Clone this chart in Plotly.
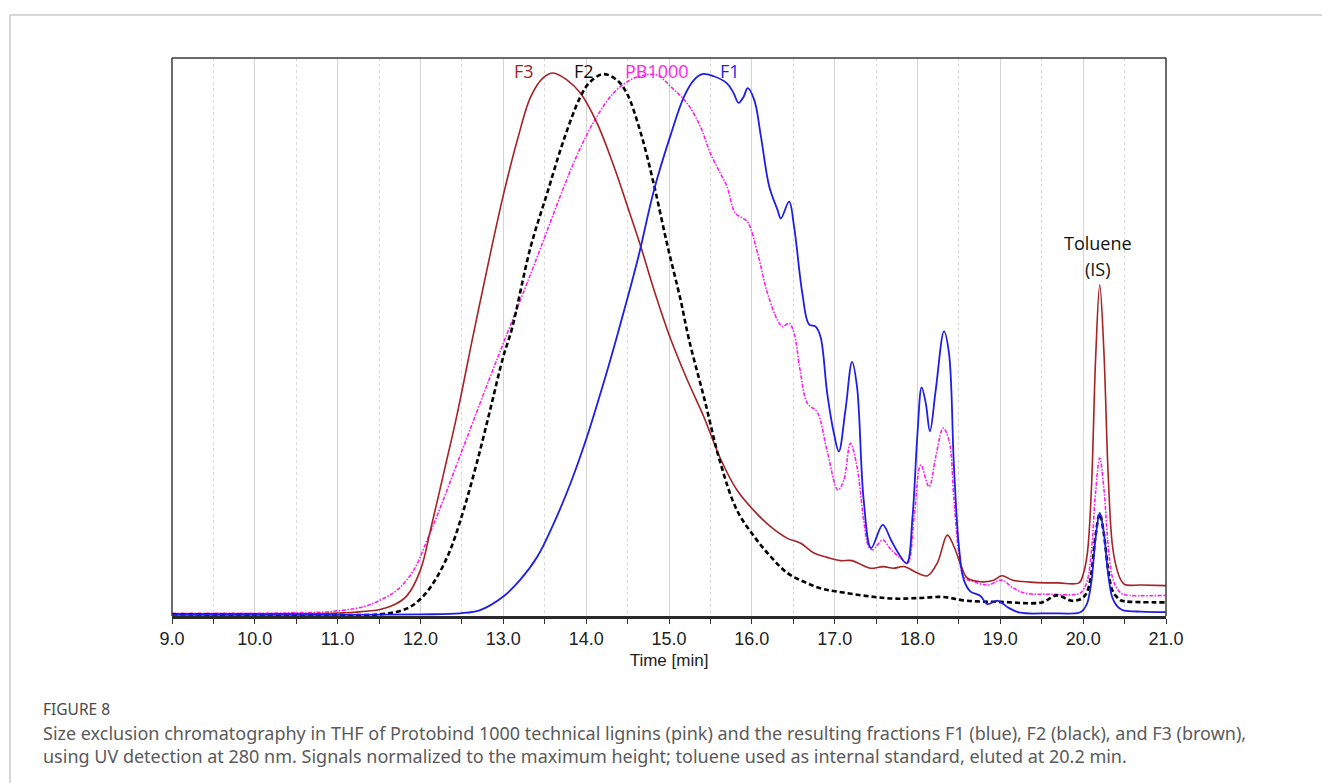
import plotly.graph_objects as go

# ---------------- data (normalized signal vs. time [min]) ----------------
f3_t = [9.0, 10.0, 10.5, 10.9, 11.2, 11.51, 11.7, 11.84, 12.0, 12.12, 12.28, 12.44, 12.64, 12.84,
        13.0, 13.17, 13.33, 13.48, 13.6, 13.77, 13.93, 14.13, 14.33, 14.53, 14.66, 14.82, 15.02,
        15.22, 15.42, 15.62, 15.82, 16.02, 16.23, 16.43, 16.59, 16.75, 16.91, 17.07, 17.21, 17.3,
        17.43, 17.59, 17.71, 17.84, 18.0, 18.12, 18.24, 18.36, 18.44, 18.53, 18.6, 18.76, 18.92,
        19.02, 19.15, 19.4, 19.7, 19.95, 20.0, 20.05, 20.1, 20.15, 20.2, 20.25, 20.3, 20.35, 20.4,
        20.45, 20.5, 20.7, 21.0]
f3_v = [0.004, 0.004, 0.004, 0.005, 0.007, 0.012, 0.022, 0.038, 0.085, 0.158, 0.263, 0.370, 0.520, 0.665,
        0.775, 0.877, 0.956, 0.991, 1.0, 0.987, 0.963, 0.908, 0.830, 0.740, 0.680, 0.600, 0.510,
        0.435, 0.367, 0.290, 0.232, 0.195, 0.164, 0.143, 0.134, 0.116, 0.108, 0.102, 0.102, 0.096,
        0.088, 0.091, 0.088, 0.091, 0.079, 0.074, 0.098, 0.149, 0.128, 0.091, 0.070, 0.063, 0.066,
        0.074, 0.066, 0.062, 0.061, 0.061, 0.077, 0.115, 0.236, 0.473, 0.610, 0.488, 0.267, 0.134, 0.090,
        0.068, 0.058, 0.057, 0.056]

f2_t = [9.0, 10.0, 11.0, 11.51, 11.84, 12.03, 12.2, 12.36, 12.52, 12.68, 12.84, 13.0, 13.1, 13.33,
        13.53, 13.73, 13.93, 14.05, 14.21, 14.37, 14.49, 14.66, 14.82, 14.98, 15.14, 15.24, 15.43,
        15.62, 15.82, 16.03, 16.23, 16.43, 16.63, 16.83, 17.03, 17.43, 17.72, 18.0, 18.3, 18.6,
        19.0, 19.5, 19.68, 19.86, 19.95, 20.0, 20.05, 20.1, 20.15, 20.2, 20.25, 20.3, 20.35, 20.4,
        20.45, 20.5, 21.0]
f2_v = [0.003, 0.002, 0.002, 0.003, 0.014, 0.036, 0.072, 0.122, 0.195, 0.282, 0.379, 0.478, 0.527, 0.680,
        0.779, 0.877, 0.956, 0.984, 0.998, 0.987, 0.963, 0.889, 0.793, 0.683, 0.582, 0.510, 0.398,
        0.282, 0.195, 0.146, 0.109, 0.079, 0.063, 0.051, 0.045, 0.036, 0.032, 0.033, 0.035, 0.028,
        0.026, 0.025, 0.038, 0.028, 0.030, 0.034, 0.045, 0.080, 0.149, 0.188, 0.151, 0.087, 0.048, 0.036,
        0.029, 0.027, 0.025]

pb_t = [9.0, 10.0, 10.5, 10.9, 11.31, 11.51, 11.72, 11.92, 12.08, 12.24, 12.44, 12.64, 12.84, 13.02,
        13.33, 13.53, 13.73, 13.93, 14.13, 14.33, 14.53, 14.7, 14.86, 15.02, 15.22, 15.38,
        15.5, 15.62, 15.7, 15.8, 15.9, 15.96, 16.07, 16.19, 16.31, 16.37, 16.45, 16.51, 16.58,
        16.67, 16.79, 16.91, 17.04, 17.11, 17.19, 17.27, 17.35, 17.41, 17.46, 17.58, 17.68, 17.8,
        17.88, 17.96, 18.04, 18.14, 18.22, 18.31, 18.38, 18.44, 18.5, 18.56, 18.68, 18.85, 19.02,
        19.15, 19.3, 19.6, 19.95, 20.0, 20.05, 20.1, 20.15, 20.2, 20.25, 20.3, 20.35, 20.4, 20.45,
        20.5, 21.0]
pb_v = [0.005, 0.005, 0.006, 0.008, 0.017, 0.029, 0.048, 0.085, 0.140, 0.200, 0.280, 0.360, 0.440, 0.510,
        0.630, 0.710, 0.790, 0.862, 0.920, 0.963, 0.987, 0.996, 0.996, 0.975, 0.944, 0.901,
        0.852, 0.815, 0.791, 0.742, 0.732, 0.723, 0.668, 0.594, 0.545, 0.533, 0.539, 0.521, 0.455,
        0.392, 0.375, 0.303, 0.232, 0.250, 0.318, 0.275, 0.177, 0.128, 0.122, 0.140, 0.122, 0.106,
        0.097, 0.183, 0.278, 0.238, 0.293, 0.346, 0.324, 0.214, 0.115, 0.072, 0.063, 0.057, 0.066,
        0.052, 0.042, 0.040, 0.041, 0.048, 0.065, 0.120, 0.228, 0.291, 0.235, 0.133, 0.073, 0.053, 0.043,
        0.039, 0.038]

f1_t = [9.0, 11.0, 12.0, 12.48, 12.72, 13.0, 13.2, 13.41, 13.61, 13.81, 14.01, 14.21, 14.37, 14.62,
        14.82, 15.02, 15.18, 15.3, 15.4, 15.54, 15.7, 15.78, 15.84, 15.9, 15.95, 16.03, 16.11,
        16.21, 16.31, 16.35, 16.45, 16.51, 16.61, 16.69, 16.77, 16.83, 16.91, 16.99, 17.05, 17.13,
        17.21, 17.27, 17.35, 17.44, 17.58, 17.68, 17.76, 17.87, 17.94, 18.0, 18.05, 18.1, 18.15,
        18.22, 18.32, 18.38, 18.44, 18.5, 18.56, 18.64, 18.76, 18.84, 18.97, 19.1, 19.24, 19.6,
        19.95, 20.0, 20.05, 20.1, 20.15, 20.2, 20.25, 20.3, 20.35, 20.4, 20.45, 20.5, 20.7, 21.0]
f1_v = [0.002, 0.002, 0.003, 0.005, 0.011, 0.036, 0.066, 0.109, 0.171, 0.244, 0.330, 0.429, 0.514, 0.655,
        0.785, 0.886, 0.956, 0.987, 0.998, 0.994, 0.981, 0.963, 0.945, 0.956, 0.972, 0.950, 0.883,
        0.791, 0.748, 0.732, 0.763, 0.717, 0.594, 0.537, 0.533, 0.514, 0.410, 0.337, 0.303, 0.379,
        0.468, 0.422, 0.214, 0.125, 0.168, 0.140, 0.118, 0.097, 0.183, 0.337, 0.421, 0.392, 0.340,
        0.416, 0.524, 0.484, 0.275, 0.128, 0.066, 0.045, 0.037, 0.022, 0.028, 0.015, 0.006, 0.005,
        0.006, 0.011, 0.024, 0.064, 0.144, 0.190, 0.153, 0.079, 0.035, 0.020, 0.013, 0.010, 0.008, 0.007]

x_ticks = [9.0, 10.0, 11.0, 12.0, 13.0, 14.0, 15.0, 16.0, 17.0, 18.0, 19.0, 20.0, 21.0]
x_tick_labels = ["9.0", "10.0", "11.0", "12.0", "13.0", "14.0", "15.0", "16.0", "17.0", "18.0",
                 "19.0", "20.0", "21.0"]

caption_title = "FIGURE 8"
caption_lines = [
    "Size exclusion chromatography in THF of Protobind 1000 technical lignins (pink) and the resulting fractions F1 (blue), F2 (black), and F3 (brown),",
    "using UV detection at 280 nm. Signals normalized to the maximum height; toluene used as internal standard, eluted at 20.2 min.",
]

# ---------------- figure ----------------
W, H = 1322, 783
L, R, T, B = 172, 1166, 58, 616  # plot area in pixels


def px(xp):
    return (xp - L) / (R - L)


def py(yp):
    return (B - yp) / (B - T)


BROWN = "#A52226"
BLUE = "#1E1EE6"
PINK = "#FF1EF0"
SM = 1.0

fig = go.Figure()
fig.add_trace(go.Scatter(x=pb_t, y=pb_v, mode="lines", name="PB1000",
                         line=dict(color=PINK, width=1.6, dash="4px,1.5px,1.5px,1.5px", shape="spline", smoothing=SM)))
fig.add_trace(go.Scatter(x=f3_t, y=f3_v, mode="lines", name="F3",
                         line=dict(color=BROWN, width=1.6, shape="spline", smoothing=SM)))
fig.add_trace(go.Scatter(x=f2_t, y=f2_v, mode="lines", name="F2",
                         line=dict(color="black", width=2.6, dash="5px,3px", shape="spline", smoothing=SM)))
fig.add_trace(go.Scatter(x=f1_t, y=f1_v, mode="lines", name="F1",
                         line=dict(color=BLUE, width=1.8, shape="spline", smoothing=SM)))

ymax = (B - T) / 543.0

fig.update_layout(
    width=W, height=H,
    margin=dict(l=L, r=W - R, t=T, b=H - B, pad=0),
    paper_bgcolor="white", plot_bgcolor="white",
    showlegend=False,
    font=dict(family="Liberation Sans, Arial, sans-serif", color="#222"),
    xaxis=dict(
        range=[9, 21], tickvals=x_ticks, ticktext=x_tick_labels,
        showgrid=True, gridcolor="#d4d4d4", gridwidth=1,
        ticks="outside", ticklen=5, tickcolor="#333", tickwidth=1,
        tickfont=dict(size=18, color="#222"),
        showline=True, linecolor="#2a2a2a", linewidth=2.5, mirror=False,
        zeroline=False,
        minor=dict(dtick=0.5, tick0=9.5, showgrid=True, gridcolor="#d8d8d8", griddash="dot",
                   gridwidth=1, ticks="outside", ticklen=5, tickcolor="#333"),
        title=dict(text="Time [min]", font=dict(size=17, color="#222"), standoff=6),
    ),
    yaxis=dict(
        range=[0, ymax], showticklabels=False, showgrid=False, zeroline=False,
        ticks="", showline=False,
    ),
)

# plot frame (left, top, right)
frame = dict(color="#3a3a3a", width=1.5)
fig.add_shape(type="line", xref="paper", yref="paper", x0=0, x1=0, y0=0, y1=1, line=frame)
fig.add_shape(type="line", xref="paper", yref="paper", x0=0, x1=1, y0=1, y1=1, line=frame)
fig.add_shape(type="line", xref="paper", yref="paper", x0=1, x1=1, y0=0, y1=1, line=frame)

# outer card border
card = dict(color="#c8c8c8", width=1.5)
fig.add_shape(type="line", xref="paper", yref="paper", x0=px(10), x1=px(1322), y0=py(15), y1=py(15), line=card)
fig.add_shape(type="line", xref="paper", yref="paper", x0=px(10), x1=px(10), y0=py(15), y1=py(783), line=card)

# series labels
lab_font = "Open Sans, Noto Sans, sans-serif"
for txt, xc, col in [("F3", 13.25, BROWN), ("F2", 13.97, "#111"), ("PB1000", 14.86, PINK), ("F1", 15.74, BLUE)]:
    fig.add_annotation(x=xc, y=(B - 71) / 543.0, text=txt, showarrow=False, xref="x", yref="y",
                       font=dict(family=lab_font, size=18, color=col), xanchor="center", yanchor="middle")
fig.add_annotation(x=20.18, y=(B - 243) / 543.0, text="Toluene", showarrow=False,
                   font=dict(family=lab_font, size=18, color="#111"), xanchor="center", yanchor="middle")
fig.add_annotation(x=20.18, y=(B - 269) / 543.0, text="(IS)", showarrow=False,
                   font=dict(family=lab_font, size=18, color="#111"), xanchor="center", yanchor="middle")

# caption
cap_font = "Noto Sans, Open Sans, sans-serif"
fig.add_annotation(x=px(41), y=py(709), xref="paper", yref="paper", text=caption_title, showarrow=False,
                   xanchor="left", yanchor="middle", font=dict(family=cap_font, size=15.5, color="#4a4a4a"))
fig.add_annotation(x=px(41), y=py(719), xref="paper", yref="paper", text="<br>".join(caption_lines),
                   showarrow=False, xanchor="left", yanchor="top", align="left",
                   font=dict(family=cap_font, size=18, color="#5a5a5a"))

fig.write_html("out.html")
